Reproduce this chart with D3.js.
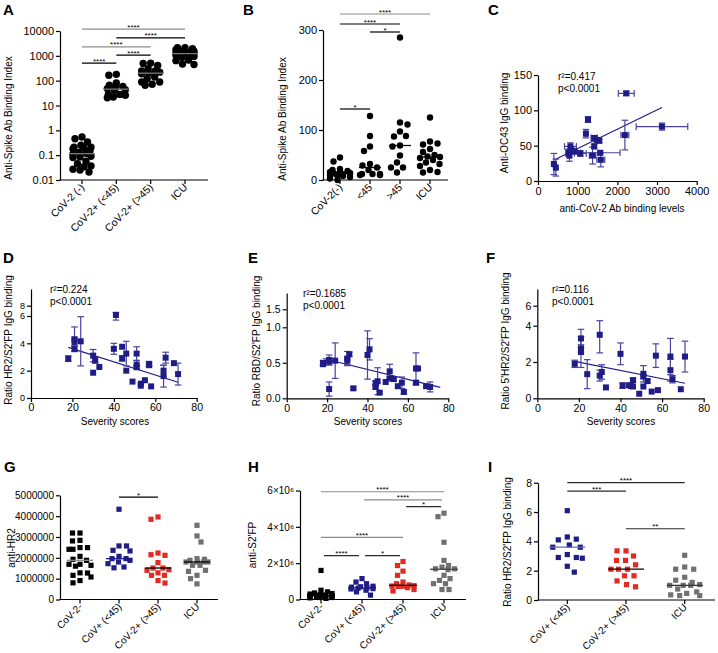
<!DOCTYPE html>
<html><head><meta charset="utf-8">
<script src="https://cdn.jsdelivr.net/npm/d3@7"></script>
<style>
body{margin:0;background:#fff}
</style></head><body>
<svg id="fig" width="718" height="653" style="background:#fff"></svg>
<script>
// ================= DATA =================
// Panel A
const catsA = ["CoV-2 (-)", "CoV-2+ (<45)", "CoV-2+ (>45)", "ICU"];
const aNeg  = [0.46,0.54,0.34,0.25,0.21,0.21,0.18,0.2,0.15,0.13,0.085,0.09,0.08,0.057,0.045,0.037,0.034,0.027,0.025,0.021,0.12,0.11];
const aLt45 = [180,165,65,80,59,53,48,41,43,28,26,28,20.6,22];
const aGt45 = [510,490,410,300,245,245,190,220,200,140,120,88,88,65,72];
const aICU  = [1950,2140,2140,1770,1550,1400,1650,1230,1150,1300,1230,950,880,1050,640,680,450,470];
const ticksA = [0.01,0.1,1,10,100,1000,10000];
const sigA = [[0,3,12000,"****"],[1,3,5300,"****"],[0,2,2300,"****"],[1,2,1070,"****"],[0,1,510,"****"]];

// Panel B
const catsB = ["CoV-2(-)", "<45", ">45", "ICU"];
const bNeg  = [45,37,22,20,18,16,15,14,13,12,12,10,9,8,6,3,0];
const bLt45 = [128,88,67,58,32,29,25,20,12,12,12,10,10];
const bGt45 = [285,115,111,97,88,87,69,67,49,35,25,25,15];
const bICU  = [125,77,73,71,62,56,50,47,46,44,40,35,32,28,20,16,15];
const ticksB = [0,100,200,300];
const sigB = [[0,3,332,"****"],[0,2,312,"****"],[1,2,296,"*"],[0,1,142,"*"]];

// Panel C
const cX  = [2225,3125,2190,1260,1208,1417,1483,1542,1417,817,833,917,767,1067,1567,792,1375,1583,400,450];
const cY  = [124,77,65,87,67,61,58,57,49,49,44,42,40,39,40,36,36,30,24,19];
const cXe = [200,650,100,50,40,80,60,60,40,150,60,80,60,150,500,40,80,100,40,30];
const cYe = [3,5,21,4,6,3,3,3,3,5,4,4,5,4,3,8,12,10,15,12];
const cLine = {x:[417,3125], y:[30,104]};
const ticksCx = [0,1000,2000,3000,4000], ticksCy = [0,50,100,150];

// Panel D (severity score vs ratio HR2/S2'FP)
const dX = [18,21,21,21,24,30,30,31,33,40,41,44,44,46,46,49,51,51,51,53,53,55,57,57,58,64,64,65,69,71];
const dY = [2.88,4.3,4.1,3.6,4.15,3.1,1.85,2.75,2.27,3.6,6.2,3.75,2.9,3.25,2.0,1.2,3.25,2.45,2.25,1.05,0.9,1.3,2.5,2.4,0.85,2.0,1.6,2.95,2.55,1.75];
const dE = [0.2,0.9,0.3,0.2,1.8,0.45,0,0.2,0,0.4,0.5,0,0.2,0.9,0,0,0.5,0.3,0.1,0,0,0,0.15,0.1,0,0.4,0.8,0.4,0,0.8];
const dLine = {x:[18,71], y:[3.7,1.15]};
const ticksD = [0,2,4,6,8];

// Panel E (ratio RBD/S2'FP)
const eX = [18,18,21,21,21,24,30,30,31,33,40,41,44,44,45,46,49,51,51,53,55,57,58,64,65,64,69,71];
const eY = [0.5,0.48,0.52,0.54,0.13,0.53,0.53,0.56,0.62,0.14,0.61,0.69,0.21,0.16,0.24,0.08,0.23,0.38,0.28,0.27,0.17,0.22,0.09,0.42,0.42,0.22,0.17,0.16];
const eE = [0.03,0.02,0.05,0.07,0.1,0.25,0.05,0.1,0.03,0.02,0.34,0.15,0.04,0.03,0.19,0.02,0,0.1,0.03,0.03,0,0.08,0.03,0.22,0,0.03,0,0.07];
const eLine = {x:[18,76], y:[0.56,0.155]};
const ticksE = [0,0.5,1.0,1.5];

// Panel F (ratio 5'HR2/S2'FP)
const fX = [18,21,21,21,24,30,30,31,33,40,41,44,45,46,46,49,51,51,51,53,55,57,58,64,64,65,69,71];
const fY = [1.9,3.3,2.75,2.55,1.33,3.5,1.25,1.45,0.6,2.45,0.7,0.72,0.68,1.0,0.65,0.25,1.35,1.2,0.65,0.95,0.37,2.35,0.45,2.3,1.55,1.05,0.5,2.3];
const fE = [0.2,0.5,0.2,0.85,0.8,1.0,0.3,0.4,0,0.6,0.15,0,0,0.1,0,0,0.45,0.1,0,0.1,0,0.65,0,1.0,0.6,0.2,0,0.85];
const fLine = {x:[18,71], y:[2.03,0.83]};
const ticksF = [0,2,4,6];
const ticksSev = [0,20,40,60,80];

// Panel G (anti-HR2)
const catsG = ["CoV-2-", "CoV+ (<45)", "CoV-2+ (>45)", "ICU"];
const gNeg  = [3190000,3190000,2490000,2490000,2810000,2840000,2410000,2410000,2070000,1880000,1930000,1690000,1600000,1640000,1690000,1270000,1160000,1280000,1080000,910000,800000];
const gLt45 = [4330000,2570000,2570000,2360000,2330000,2070000,1960000,1960000,1720000,1880000,1520000,1560000,1800000];
const gGt45 = [3960000,3850000,2150000,2230000,2120000,1770000,1510000,1510000,1430000,1400000,1280000,1160000,1160000,910000,790000];
const gICU  = [3560000,3050000,2760000,1800000,1880000,1930000,1960000,1800000,1640000,1640000,1400000,1350000,1160000,1000000,750000,1800000,1800000];
const ticksG = [0,1000000,2000000,3000000,4000000,5000000];
const sigG = [[1,2,4910000,"*"]];

// Panel H (anti-S2'FP)
const catsH = ["CoV-2-", "CoV+ (<45)", "CoV-2+ (>45)", "ICU"];
const hNeg  = [1600000,180000,330000,420000,510000,360000,240000,150000,110000,150000,240000,110000,90000,200000,280000,60000,120000,300000,170000,220000];
const hLt45 = [1150000,960000,870000,730000,600000,620000,680000,580000,640000,700000,240000,420000,510000];
const hGt45 = [2090000,1870000,1560000,1330000,960000,870000,740000,730000,760000,720000,470000,650000,550000,800000];
const hICU  = [4560000,4750000,3150000,2150000,1780000,1870000,1690000,1640000,1690000,1050000,1330000,1150000,870000,870000,550000,550000];
const ticksH = [0,2000000,4000000,6000000];
const tickLabelsH = ["0","2×10⁶","4×10⁶","6×10⁶"];
const sigH = [[0,3,5930000,"****"],[1,3,5480000,"****"],[2,3,5110000,"*"],[0,2,3420000,"****"],[0,1,2420000,"****"],[1,2,2420000,"*"]];

// Panel I (ratio HR2/S2'FP by group)
const catsI = ["CoV+ (<45)", "CoV-2+ (>45)", "ICU"];
const iLt45 = [6.09,4.3,4.1,4.15,3.75,3.6,3.6,3.1,2.9,2.85,2.9,2.3,1.9];
const iGt45 = [3.35,3.35,3.0,2.7,2.7,2.4,2.1,2.1,1.65,1.65,1.3,1.05,0.9,2.1];
const iICU  = [3.05,2.25,2.1,2.1,1.35,1.0,1.2,1.05,0.55,0.35,0.3,0.3,0.45,1.0,1.0,0.75,1.55];
const ticksI = [0,2,4,6,8];
const sigI = [[0,2,8.0,"****"],[0,1,7.43,"***"],[1,2,4.86,"**"]];

// ================= STYLE =================
const FONT = '"Liberation Sans", Arial, Helvetica, sans-serif';
const NAVY = "#1f1c86", ERRC = "#4844a0", RED = "#e22a22", GRAY = "#707070", SIGG = "#8c8c8c", DARK = "#2a2a2a";
const svg = d3.select("#fig").attr("font-family", FONT);

function styleAxis(a, fs){
  a.attr("font-family", FONT).attr("font-size", fs || 10);
  a.select(".domain").attr("stroke", "#000").attr("stroke-width", 1.2);
  a.selectAll(".tick line").attr("stroke", "#000").attr("stroke-width", 1.2);
  a.selectAll(".tick text").attr("fill", "#000");
}
function letter(t, x, y){
  svg.append("text").attr("x", x).attr("y", y).attr("font-size", 15).attr("font-weight", "bold").text(t);
}
function ylab(t, x, y){
  svg.append("text").attr("transform", `translate(${x},${y}) rotate(-90)`).attr("text-anchor", "middle")
    .attr("font-size", 10).text(t);
}
function xlab(t, x, y){
  svg.append("text").attr("x", x).attr("y", y).attr("text-anchor", "middle").attr("font-size", 10).text(t);
}

// scatter-dot placement: points pushed sideways to limit overlap, within a max half-width
function swarm(vals, cx, y, d, maxHalf){
  const pts = vals.map(v => ({v, py: y(v)})).sort((a, b) => a.py - b.py);
  const placed = [];
  pts.forEach((p, k) => {
    let best = 0, bestCost = Infinity;
    for (let o = -maxHalf; o <= maxHalf + 1e-9; o += 0.5){
      let ov = 0;
      placed.forEach(q => {
        const dx = q.off - o, dy = q.py - p.py, dist = Math.sqrt(dx*dx + dy*dy);
        if (dist < d) ov += (d - dist);
      });
      const cost = ov * 100 + Math.abs(o) + ((k % 2) ? (o > 0 ? 0.01 : 0) : (o < 0 ? 0.01 : 0));
      if (cost < bestCost){ bestCost = cost; best = o; }
    }
    p.off = best; placed.push(p);
  });
  return placed.map(p => ({v: p.v, x: cx + p.off, y: p.py}));
}

function catPanel(o){
  const g = svg.append("g");
  const x = d3.scalePoint().domain(o.cats).range(o.xr);
  const ax = d3.axisLeft(o.y).tickValues(o.yTicks).tickFormat(o.yFmt).tickSize(4).tickSizeOuter(0).tickPadding(2);
  styleAxis(g.append("g").attr("transform", `translate(${o.axisX},0)`).call(ax), o.fs);
  g.append("line").attr("x1", o.axisX - 0.6).attr("x2", o.axisEnd).attr("y1", o.baseY).attr("y2", o.baseY)
    .attr("stroke", "#000").attr("stroke-width", 1.2);
  o.cats.forEach(c => {
    g.append("line").attr("x1", x(c)).attr("x2", x(c)).attr("y1", o.baseY).attr("y2", o.baseY + 4)
      .attr("stroke", "#000").attr("stroke-width", 1.2);
    g.append("text").attr("transform", `translate(${x(c) + 3},${o.baseY + 8}) rotate(-45)`)
      .attr("text-anchor", "end").attr("font-size", o.cfs || 10).text(c);
  });
  o.sig.forEach((s, k) => {
    const x1 = x(o.cats[s[0]]) + (o.sigInset ? o.sigInset[k] : 0);
    const x2 = x(o.cats[s[1]]) - (o.sigInset ? o.sigInset[k] : 0);
    const yy = o.y(s[2]);
    g.append("line").attr("x1", x1).attr("x2", x2).attr("y1", yy).attr("y2", yy)
      .attr("stroke", o.sigColors[k]).attr("stroke-width", 1.2);
    g.append("text").attr("x", (x1 + x2) / 2).attr("y", yy + 0.5).attr("text-anchor", "middle")
      .attr("font-size", 8).attr("fill", "#000").text(s[3]);
  });
  o.groups.forEach((vals, i) => {
    const cx = x(o.cats[i]);
    const pts = swarm(vals, cx, o.y, o.diam, o.maxHalf);
    if (o.shape === "circle"){
      g.selectAll(null).data(pts).enter().append("circle")
        .attr("cx", d => d.x).attr("cy", d => d.y).attr("r", o.size / 2).attr("fill", o.colors[i]);
    } else {
      g.selectAll(null).data(pts).enter().append("rect")
        .attr("x", d => d.x - o.size / 2).attr("y", d => d.y - o.size / 2)
        .attr("width", o.size).attr("height", o.size).attr("fill", o.colors[i]);
    }
    const m = o.y(d3.median(vals));
    g.append("line").attr("x1", cx - o.medHalf).attr("x2", cx + o.medHalf).attr("y1", m).attr("y2", m)
      .attr("stroke", o.medColors[i]).attr("stroke-width", 1.3);
  });
}

function scatPanel(o){
  const g = svg.append("g");
  const axx = d3.axisBottom(o.x).tickValues(o.xTicks).tickFormat(d3.format("d")).tickSize(4).tickSizeOuter(0).tickPadding(2);
  styleAxis(g.append("g").attr("transform", `translate(0,${o.baseY})`).call(axx), o.fs);
  const axy = d3.axisLeft(o.y).tickValues(o.yTicks).tickFormat(o.yFmt).tickSize(4).tickSizeOuter(0).tickPadding(2);
  styleAxis(g.append("g").attr("transform", `translate(${o.axisX},0)`).call(axy), o.yfs || o.fs);
  g.append("line").attr("x1", o.x(o.line.x[0])).attr("x2", o.x(o.line.x[1]))
    .attr("y1", o.y(o.line.y[0])).attr("y2", o.y(o.line.y[1])).attr("stroke", NAVY).attr("stroke-width", 1.2);
  const cap = 3.3;
  o.xs.forEach((xv, i) => {
    const px = o.x(xv), py = o.y(o.ys[i]);
    const ye = o.yes[i];
    if (ye > 0){
      const t = o.y(o.ys[i] + ye), b = o.y(Math.max(0, o.ys[i] - ye));
      g.append("line").attr("x1", px).attr("x2", px).attr("y1", t).attr("y2", b).attr("stroke", ERRC).attr("stroke-width", 1.2);
      [t, b].forEach(yy => g.append("line").attr("x1", px - cap).attr("x2", px + cap).attr("y1", yy).attr("y2", yy).attr("stroke", ERRC).attr("stroke-width", 1.2));
    }
    if (o.xes && o.xes[i] > 0){
      const l = o.x(xv - o.xes[i]), r = o.x(xv + o.xes[i]);
      g.append("line").attr("x1", l).attr("x2", r).attr("y1", py).attr("y2", py).attr("stroke", ERRC).attr("stroke-width", 1.2);
      [l, r].forEach(xx => g.append("line").attr("x1", xx).attr("x2", xx).attr("y1", py - cap).attr("y2", py + cap).attr("stroke", ERRC).attr("stroke-width", 1.2));
    }
  });
  o.xs.forEach((xv, i) => {
    g.append("rect").attr("x", o.x(xv) - 3).attr("y", o.y(o.ys[i]) - 3).attr("width", 6).attr("height", 6).attr("fill", NAVY);
  });
  g.append("text").attr("x", o.ann[0]).attr("y", o.ann[1]).attr("font-size", 10).text(o.r2);
  g.append("text").attr("x", o.ann[0]).attr("y", o.ann[1] + 12).attr("font-size", 10).text("p<0.0001");
}

// ================= PANELS =================
letter("A", 3, 15);
catPanel({cats: catsA, groups: [aNeg, aLt45, aGt45, aICU], xr: [82, 185], axisX: 60, axisEnd: 208, baseY: 180,
  y: d3.scaleLog().domain([0.01, 10000]).range([180, 31]), yTicks: ticksA, yFmt: d => String(d), fs: 11, cfs: 10.5,
  shape: "circle", size: 7.4, diam: 7.2, maxHalf: 9, colors: ["#000","#000","#000","#000"],
  medColors: ["#7a7a7a","#7a7a7a","#7a7a7a","#7a7a7a"], medHalf: 13,
  sig: sigA, sigColors: [SIGG, "#000", SIGG, "#000", "#000"]});
ylab("Anti-Spike Ab Binding Index", 12, 118);

letter("B", 243, 15);
catPanel({cats: catsB, groups: [bNeg, bLt45, bGt45, bICU], xr: [340, 430], axisX: 323, axisEnd: 448, baseY: 180,
  y: d3.scaleLinear().domain([0, 300]).range([180, 30]), yTicks: ticksB, yFmt: d3.format("d"), fs: 11, cfs: 10.5,
  shape: "circle", size: 6.4, diam: 7.5, maxHalf: 10, colors: ["#000","#000","#000","#000"],
  medColors: ["#000","#000","#000","#000"], medHalf: 11,
  sig: sigB, sigColors: [SIGG, "#000", "#000", "#000"]});
ylab("Anti-Spike Ab Binding Index", 286, 119);

letter("C", 488, 15);
scatPanel({x: d3.scaleLinear().domain([0, 4000]).range([538, 696.7]), y: d3.scaleLinear().domain([0, 150]).range([181, 75]),
  xTicks: ticksCx, yTicks: ticksCy, yFmt: d3.format("d"), baseY: 181, axisX: 538, fs: 11,
  xs: cX, ys: cY, yes: cYe, xes: cXe, line: cLine, ann: [558, 80], r2: "r²=0.417"});
ylab("Anti-OC43 IgG binding", 508, 123);
xlab("anti-CoV-2 Ab binding levels", 622, 212);

letter("D", 3, 263);
scatPanel({x: d3.scaleLinear().domain([0, 80]).range([31, 196.7]),
  y: d3.scaleLinear().domain([0, 6, 8, 11.3]).range([398, 316, 305.7, 289]), fs: 10.5, yfs: 9,
  xTicks: ticksSev, yTicks: ticksD, yFmt: d3.format("d"), baseY: 398, axisX: 31,
  xs: dX, ys: dY, yes: dE, line: dLine, ann: [50, 293], r2: "r²=0.224"});
ylab("Ratio HR2/S2'FP IgG binding", 12, 340);
xlab("Severity scores", 115, 425);

letter("E", 248, 263);
scatPanel({x: d3.scaleLinear().domain([0, 80]).range([286.7, 448.3]),
  y: d3.scaleLinear().domain([0, 1, 1.5, 1.95]).range([398.3, 327.3, 309.3, 293]), fs: 10.5,
  xTicks: ticksSev, yTicks: ticksE, yFmt: d3.format(".1f"), baseY: 398.3, axisX: 286.7,
  xs: eX, ys: eY, yes: eE, line: eLine, ann: [303, 297], r2: "r²=0.1685"});
ylab("Ratio RBD/S2'FP IgG binding", 260, 341);
xlab("Severity scores", 368, 425);

letter("F", 486, 263);
scatPanel({x: d3.scaleLinear().domain([0, 80]).range([537.3, 703.7]),
  y: d3.scaleLinear().domain([0, 4, 6, 7.67]).range([398.3, 325.7, 305.7, 289]), fs: 10.5,
  xTicks: ticksSev, yTicks: ticksF, yFmt: d3.format("d"), baseY: 398.3, axisX: 537.3,
  xs: fX, ys: fY, yes: fE, line: fLine, ann: [552, 293], r2: "r²=0.116"});
ylab("Ratio 5'HR2/S2'FP IgG binding", 509, 341);
xlab("Severity scores", 621, 425);

letter("G", 4, 472);
catPanel({cats: catsG, groups: [gNeg, gLt45, gGt45, gICU], xr: [80, 197], axisX: 60, axisEnd: 218, baseY: 599.5,
  y: d3.scaleLinear().domain([0, 5000000]).range([599.5, 495.3]), yTicks: ticksG, yFmt: d3.format("d"),
  shape: "rect", size: 5.2, diam: 7.2, maxHalf: 11, colors: ["#000", NAVY, RED, GRAY],
  medColors: ["#888", NAVY, "#000", "#000"], medHalf: 13,
  sig: sigG, sigColors: ["#000"]});
ylab("anti-HR2", 15, 548);

letter("H", 248, 472);
catPanel({cats: catsH, groups: [hNeg, hLt45, hGt45, hICU], xr: [321, 444], axisX: 300, axisEnd: 466, baseY: 599.5,
  y: d3.scaleLinear().domain([0, 6000000]).range([599.5, 490.5]), yTicks: ticksH, yFmt: (d, i) => tickLabelsH[i],
  shape: "rect", size: 5.2, diam: 6.6, maxHalf: 11, colors: ["#000", NAVY, RED, GRAY],
  medColors: ["#000", NAVY, "#000", "#444"], medHalf: 14,
  sig: sigH, sigColors: [SIGG, SIGG, DARK, SIGG, DARK, DARK], sigInset: [0, 2, 3, 0, 3, 3]});
ylab("anti-S2'FP", 256, 545);

letter("I", 488, 472);
catPanel({cats: catsI, groups: [iLt45, iGt45, iICU], xr: [567.3, 684.7], axisX: 538, axisEnd: 715, baseY: 600,
  y: d3.scaleLinear().domain([0, 8]).range([600, 482.7]), yTicks: ticksI, yFmt: d3.format("d"), fs: 10.5,
  shape: "rect", size: 5.2, diam: 9, maxHalf: 15, colors: [NAVY, RED, GRAY],
  medColors: ["#6b66bd", "#000", "#333"], medHalf: 18,
  sig: sigI, sigColors: [DARK, DARK, DARK]});
ylab("Ratio HR2/S2'FP IgG binding", 511, 542);
</script>
</body></html>
